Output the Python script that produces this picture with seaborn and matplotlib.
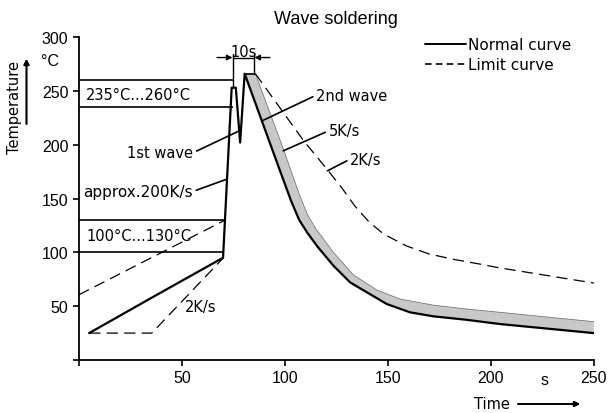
import numpy as np
import pandas as pd
import matplotlib.pyplot as plt
from matplotlib.lines import Line2D
import seaborn as sns

# --- data (time [s], temperature [degC]) ---
normal_t = [5, 35, 70, 74.2, 76.2, 78.3, 80.5, 98, 103, 107, 111, 116, 123.6, 131.7,
            139.8, 149.5, 160.8, 172, 188, 204.5, 250]
normal_T = [25, 57.5, 95, 253, 253, 202, 266, 174, 148, 130, 118, 105, 87.6, 72.1,
            62.9, 52, 44.3, 40.6, 37.4, 33.4, 25]
PEAK = 6  # index where the cooling part starts

# upper edge of the grey cooling band (5K/s)
band_t = [85.7, 99.3, 107, 111, 115, 123.6, 133.3, 144.7, 156, 172, 188, 204.5, 250]
band_T = [266, 196, 154, 135, 122, 100, 79, 65, 56.6, 51, 47.4, 44.3, 35.6]

# limit curves (dashed)
limit_cool_t = [85.7, 109, 121, 128, 134, 141, 148, 159, 170, 182, 195, 203, 250]
limit_cool_T = [266, 204, 176, 159, 143, 128, 117, 106, 98.5, 93.5, 89, 86, 71.5]
limit_heat_low_t = [5, 35.4, 70.2]
limit_heat_low_T = [25, 25, 95]
limit_heat_high_t = [0, 71]
limit_heat_high_T = [60.6, 130]

# temperature windows
window_levels = [100, 130, 235, 260]
window_ends = [70.2, 71, 74.6, 74.6]

# 10s dimension
dim_left, dim_right, dim_y = 74.6, 85.2, 281

x_ticks = [0, 50, 100, 150, 200, 250]
x_labels = ['', '50', '100', '150', '200', '250']
y_ticks = [0, 50, 100, 150, 200, 250, 300]
y_labels = ['', '50', '100', '150', '200', '250', '300']

sns.set_style("ticks")
plt.rcParams['font.family'] = ['Liberation Sans', 'DejaVu Sans']
plt.rcParams.update({'text.color': 'black', 'axes.labelcolor': 'black',
                     'xtick.color': 'black', 'ytick.color': 'black'})
ANN = dict(family='DejaVu Sans', fontsize=10.5)
LEAD = dict(arrowstyle='-', lw=1.2, color='black', shrinkA=0, shrinkB=0)
ARROW = dict(arrowstyle='-|>', lw=1.0, color='black', mutation_scale=8, shrinkA=0, shrinkB=0)

fig = plt.figure(figsize=(6.16, 4.14), dpi=100)
ax = fig.add_axes([0.128, 0.128, 0.836, 0.78])

# grey band between normal curve and 5K/s edge
lower = pd.DataFrame({'t': normal_t, 'temp': normal_T}).iloc[PEAK:]
upper = pd.DataFrame({'t': band_t, 'temp': band_T})
ax.fill(np.concatenate([lower['t'], upper['t'][::-1]]),
        np.concatenate([lower['temp'], upper['temp'][::-1]]),
        color='#c8c8c8', lw=0, zorder=1)
sns.lineplot(data=upper, x='t', y='temp', sort=False, estimator=None, ax=ax,
             color='#666666', lw=0.5, zorder=2)
ax.plot([normal_t[PEAK], band_t[0]], [normal_T[PEAK], band_T[0]], color='black', lw=1.2)

# normal curve
sns.lineplot(x=normal_t, y=normal_T, sort=False, estimator=None, ax=ax,
             color='black', lw=1.6, zorder=3)

# limit curves
for t, T in [(limit_cool_t, limit_cool_T), (limit_heat_low_t, limit_heat_low_T),
             (limit_heat_high_t, limit_heat_high_T)]:
    sns.lineplot(x=t, y=T, sort=False, estimator=None, ax=ax,
                 color='black', lw=0.9, zorder=3)
    ax.lines[-1].set_dashes((9, 5))

# window brackets
ax.hlines(window_levels, 0, window_ends, color='black', lw=1.2)

# 10s dimension
ax.plot([dim_left, dim_left], [window_levels[-1] - 5, dim_y + 3], color='black', lw=1.0, clip_on=False)
ax.plot([dim_right, dim_right], [266, dim_y + 3], color='black', lw=1.0, clip_on=False)
ax.plot([dim_left, dim_right], [dim_y, dim_y], color='black', lw=1.0, clip_on=False)
ax.annotate('', xy=(dim_left, dim_y), xytext=(dim_left - 7.5, dim_y),
            arrowprops=ARROW, annotation_clip=False)
ax.annotate('', xy=(dim_right, dim_y), xytext=(dim_right + 7.5, dim_y),
            arrowprops=ARROW, annotation_clip=False)
ax.text((dim_left + dim_right) / 2, dim_y + 1, '10s', ha='center', va='baseline',
        **ANN, zorder=5)

# text annotations
ax.text(3.6, 247, '235°C...260°C', ha='left', va='center', **ANN)
ax.text(3.9, 115.4, '100°C...130°C', ha='left', va='center', **ANN)
ax.text(51.3, 49.5, '2K/s', ha='left', va='center', **ANN)
ax.annotate('1st wave', xy=(78.0, 213), xytext=(55.6, 192.7), ha='right', va='center',
            arrowprops=dict(LEAD, relpos=(1, 0.5)), **ANN)
ax.annotate('approx.200K/s', xy=(71.8, 168), xytext=(2.2, 156.6), ha='left', va='center',
            arrowprops=dict(LEAD, relpos=(1, 0.5)), family='DejaVu Sans', fontsize=11)
ax.annotate('2nd wave', xy=(89.6, 222.8), xytext=(115.2, 246), ha='left', va='center',
            arrowprops=dict(LEAD, relpos=(0, 0.5)), **ANN)
ax.annotate('5K/s', xy=(99.2, 194.3), xytext=(121.2, 212.9), ha='left', va='center',
            arrowprops=dict(LEAD, relpos=(0, 0.5)), **ANN)
ax.annotate('2K/s', xy=(120.7, 175.8), xytext=(131.7, 186.6), ha='left', va='center',
            arrowprops=dict(LEAD, relpos=(0, 0.5)), **ANN)

# legend
handles = [Line2D([], [], color='black', lw=1.4),
           Line2D([], [], color='black', lw=1.2, dashes=(4, 2.5))]
ax.legend(handles, ['Normal curve', 'Limit curve'], loc='upper left',
          bbox_to_anchor=(0.672, 1.0), frameon=False, handlelength=2.7,
          handletextpad=0.15, labelspacing=0.35, borderpad=0, borderaxespad=0,
          prop={'family': 'DejaVu Sans', 'size': 11})

# axes
ax.set_xlim(0, 250)
ax.set_ylim(0, 300)
ax.set_xticks(x_ticks, x_labels)
ax.set_yticks(y_ticks, y_labels)
ax.tick_params(labelsize=11.5, length=4, width=1.2, direction='out', color='black')
sns.despine(ax=ax)
for s in ['left', 'bottom']:
    ax.spines[s].set_linewidth(1.3)
    ax.spines[s].set_color('black')
ax.set_xlabel('')
ax.set_ylabel('')
ax.set_title('Wave soldering', fontsize=13, pad=10)

# axis captions with arrows
fig.text(50 / 616, 1 - 61 / 414, '°C', ha='center', va='center', fontsize=11.5)
fig.text(545 / 616, 1 - 381 / 414, 's', ha='center', va='center', fontsize=11.5)
fig.text(15 / 616, 1 - 108 / 414, 'Temperature', rotation=90, ha='center', va='center',
         family='DejaVu Sans', fontsize=10.5)
fig.text(492 / 616, 1 - 405 / 414, 'Time', ha='center', va='center',
         family='DejaVu Sans', fontsize=10.5)
fig.add_artist(plt.annotate('', xy=(26.5 / 616, 1 - 60 / 414), xytext=(26.5 / 616, 1 - 125 / 414),
                            xycoords='figure fraction', arrowprops=dict(ARROW, lw=1.2)))
fig.add_artist(plt.annotate('', xy=(580 / 616, 1 - 405 / 414), xytext=(518 / 616, 1 - 405 / 414),
                            xycoords='figure fraction', arrowprops=dict(ARROW, lw=1.2)))

fig.savefig('out.png', dpi=100)
